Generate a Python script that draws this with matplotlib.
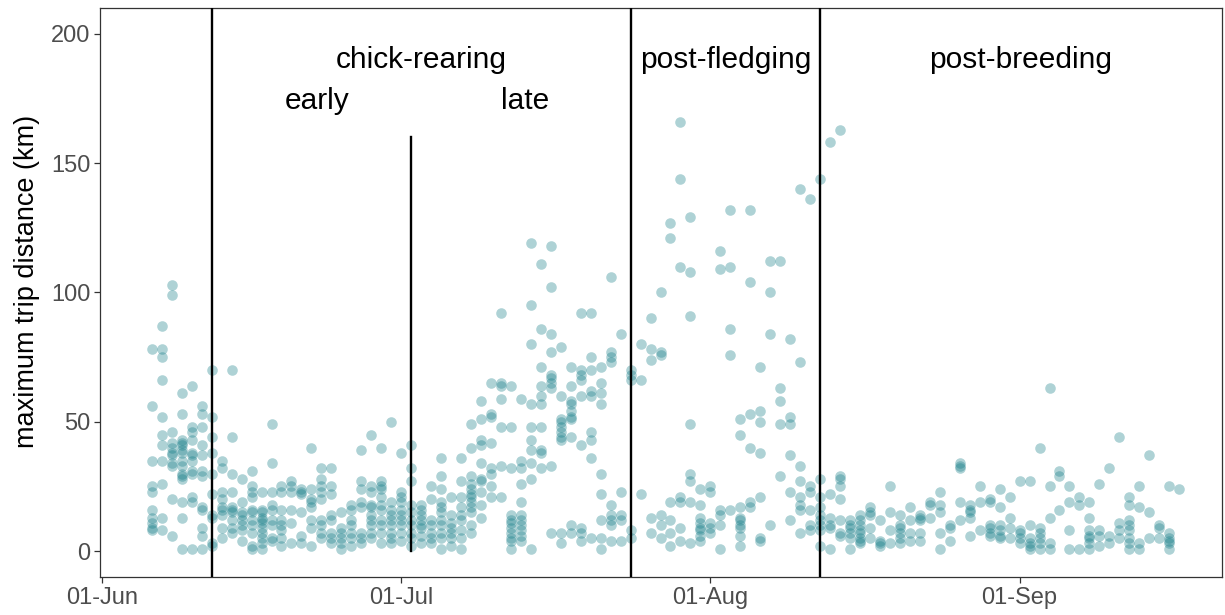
import matplotlib
matplotlib.use("Agg")
import matplotlib.pyplot as plt
import numpy as np

# day offset from 01-Jun -> list of maximum trip distances (km)
incubation = [
    (5, [78, 56, 35, 25, 23, 16, 13, 11, 9, 8]),
    (6, [87, 78, 75, 66, 52, 45, 41, 35, 26, 13, 8]),
    (7, [103, 99, 46, 42, 40, 38, 37, 34, 33, 20, 6]),
    (8, [61, 53, 43, 42, 41, 39, 38, 35, 33, 30, 29, 28, 19, 13, 1]),
    (9, [64, 48, 46, 43, 38, 37, 35, 31, 30, 21, 19, 1]),
    (10, [56, 53, 48, 41, 37, 31, 29, 17, 16, 9, 6, 1]),
]
chick_early = [
    (11, [70, 52, 44, 38, 30, 22, 14, 13, 3, 2]),
    (12, [35, 32, 23, 20, 17, 16, 14, 9, 5]),
    (13, [70, 44, 30, 23, 17, 16, 15, 12, 9, 7]),
    (14, [28, 19, 15, 14, 12, 10, 8, 4]),
    (15, [31, 25, 23, 21, 16, 15, 12, 10, 7, 2, 1]),
    (16, [23, 16, 15, 13, 12, 11, 9, 7, 5, 3, 1]),
    (17, [49, 34, 23, 18, 16, 12, 10, 5, 4]),
    (18, [25, 23, 16, 12, 10, 8, 5, 2]),
    (19, [27, 25, 23, 16, 11, 3]),
    (20, [24, 23, 22, 15, 6, 3]),
    (21, [40, 24, 20, 19, 17, 12, 9, 2]),
    (22, [32, 28, 25, 23, 20, 12, 10, 7, 5]),
    (23, [32, 25, 22, 14, 12, 7, 5, 3]),
    (24, [15, 9, 7, 5, 3, 1]),
    (25, [18, 16, 12, 10, 7, 5, 2]),
    (26, [39, 27, 24, 19, 17, 7, 5, 3]),
    (27, [45, 25, 23, 18, 17, 14, 12, 10, 7, 5]),
    (28, [40, 27, 25, 24, 21, 18, 16, 12, 10, 7, 3]),
    (29, [50, 19, 16, 14, 12, 10, 7, 5, 3]),
    (30, [38, 23, 21, 19, 16, 14, 12, 10, 7, 4]),
    (31, [41, 32, 27, 18, 15, 12, 10, 7, 5, 2]),
]
chick_late = [
    (32, [18, 16, 14, 12, 10, 9, 6, 3]),
    (33, [25, 20, 12, 10, 7, 5, 3]),
    (34, [36, 29, 24, 19, 17, 15, 12, 10, 7, 5, 1]),
    (35, [21, 14, 11, 9, 7, 5, 2]),
    (36, [36, 27, 21, 17, 14, 12, 8, 5, 1]),
    (37, [49, 40, 29, 26, 24, 22, 21, 19, 17, 15, 10, 7]),
    (38, [58, 51, 43, 41, 34, 28, 27, 23, 18, 13]),
    (39, [65, 53, 52, 42, 32, 30, 25, 21]),
    (40, [92, 65, 64, 59, 48, 33, 21]),
    (41, [64, 48, 32, 14, 12, 11, 9, 7, 5, 4, 1]),
    (42, [59, 35, 32, 26, 19, 14, 12, 10, 8, 6, 4]),
    (43, [119, 95, 80, 57, 48, 43, 39, 34, 28, 1]),
    (44, [111, 86, 71, 64, 60, 57, 48, 39, 38, 32]),
    (45, [118, 102, 84, 77, 68, 67, 65, 63, 33, 7]),
    (46, [79, 60, 51, 50, 48, 46, 44, 43, 7, 3]),
    (47, [71, 64, 58, 57, 54, 52, 51, 44, 10, 7]),
    (48, [92, 70, 68, 66, 60, 41, 9, 7, 4]),
    (49, [92, 75, 70, 62, 60, 46, 43, 36, 5]),
    (50, [71, 65, 61, 57, 30, 22, 12, 5, 1]),
    (51, [106, 77, 75, 73, 18, 14, 12, 10, 4]),
    (52, [84, 23, 14, 12, 4]),
    (53, [70, 68, 66, 8, 5]),
]
post_fledging = [
    (54, [80, 66, 22]),
    (55, [90, 78, 74, 13, 7]),
    (56, [100, 77, 76, 14, 10, 5]),
    (57, [127, 121, 19, 12, 7, 2]),
    (58, [166, 144, 110, 21, 19, 9, 4]),
    (59, [129, 108, 91, 49, 30, 27, 19, 3]),
    (60, [24, 18, 13, 11, 9, 8, 6, 4]),
    (61, [25, 23, 11, 9, 7]),
    (62, [116, 109, 16, 14, 10, 1]),
    (63, [132, 110, 86, 76, 16]),
    (64, [51, 45, 17, 13, 12, 10, 9, 6, 2]),
    (65, [132, 104, 53, 40, 19, 17]),
    (66, [71, 54, 50, 38, 21, 5, 4]),
    (67, [112, 100, 84, 10]),
    (68, [112, 63, 58, 49, 29]),
    (69, [82, 52, 49, 37, 23, 12]),
    (70, [140, 73, 33, 27, 21, 18, 16, 7]),
    (71, [136, 25, 23, 16, 10, 8]),
    (72, [144, 28, 21, 17, 14, 12, 10, 8, 2]),
]
post_breeding = [
    (73, [158, 22, 13, 10, 9, 1]),
    (74, [163, 29, 28, 25, 20, 12, 7, 6]),
    (75, [12, 10, 9, 7, 5, 1]),
    (76, [14, 12, 10, 8, 7, 5, 4, 3]),
    (77, [17, 15, 14, 9, 5]),
    (78, [12, 4, 3, 2]),
    (79, [25, 15, 8, 3]),
    (80, [14, 10, 9, 7, 5, 3]),
    (81, [17, 12, 7, 4]),
    (82, [14, 13, 12, 7, 4]),
    (83, [19, 18, 13]),
    (84, [23, 18, 15, 7, 1]),
    (85, [10, 9, 4]),
    (86, [34, 33, 32, 19, 12]),
    (87, [18, 16, 15, 13, 6]),
    (88, [25, 19, 8]),
    (89, [20, 19, 10, 9, 7, 6]),
    (90, [24, 17, 10, 8, 6, 5]),
    (91, [21, 13, 9, 5]),
    (92, [27, 8, 7, 5, 3]),
    (93, [27, 10, 5, 3, 2, 1]),
    (94, [40, 9, 7, 5, 3, 1]),
    (95, [63, 25, 13, 3, 1]),
    (96, [31, 29, 16]),
    (97, [25, 19, 8, 1]),
    (98, [21, 18, 1]),
    (99, [19, 13, 8, 6, 5, 3, 1]),
    (100, [26, 8, 6, 2]),
    (101, [32, 6, 3]),
    (102, [44, 11, 8, 5]),
    (103, [21, 18, 12, 10, 8, 5, 3, 1]),
    (104, [25, 17, 3, 1]),
    (105, [37, 15, 5]),
    (106, [10, 9, 5]),
    (107, [25, 7, 5, 4, 3, 1]),
    (108, [24]),
]

phase_bounds = [11, 53, 72]          # full-height dividers (days after 01-Jun)
early_late_bound = 31                # short divider
tick_days = [0, 30, 61, 92]
tick_labels = ["01-Jun", "01-Jul", "01-Aug", "01-Sep"]
phase_labels = [("chick-rearing", 32, 190), ("early", 21.6, 174), ("late", 42.4, 174),
                ("post-fledging", 62.5, 190), ("post-breeding", 92.1, 190)]

plt.rcParams['font.family'] = ['Liberation Sans', 'DejaVu Sans']

fig = plt.figure(figsize=(12.25, 6.15), dpi=100)
ax = fig.add_axes([0.0816, 0.0618, 0.9160, 0.9252])

xs, ys = [], []
for group in (incubation, chick_early, chick_late, post_fledging, post_breeding):
    for d, vals in group:
        for v in vals:
            xs.append(d)
            ys.append(v)

ax.scatter(xs, ys, s=58, color='#177e89', alpha=0.35, linewidths=0, zorder=2)

for b in phase_bounds:
    ax.axvline(b, color='black', lw=1.7, zorder=3)
ax.plot([early_late_bound, early_late_bound], [0, 160], color='black', lw=1.7, zorder=3)

for txt, x, y in phase_labels:
    ax.text(x, y, txt, ha='center', va='center', fontsize=21.5, color='black')

ax.set_xlim(-0.2, 112.3)
ax.set_ylim(-10, 210)
ax.set_xticks(tick_days)
ax.set_xticklabels(tick_labels)
ax.set_yticks([0, 50, 100, 150, 200])
ax.set_ylabel("maximum trip distance (km)", fontsize=19.5, color='black')
ax.yaxis.set_label_coords(-0.053, 0.52)

for sp in ax.spines.values():
    sp.set_color('#333333')
    sp.set_linewidth(0.9)
ax.tick_params(axis='both', colors='#333333', labelcolor='#4d4d4d', labelsize=17,
               length=4, width=0.9, pad=3)

fig.savefig("out.png", dpi=100)
